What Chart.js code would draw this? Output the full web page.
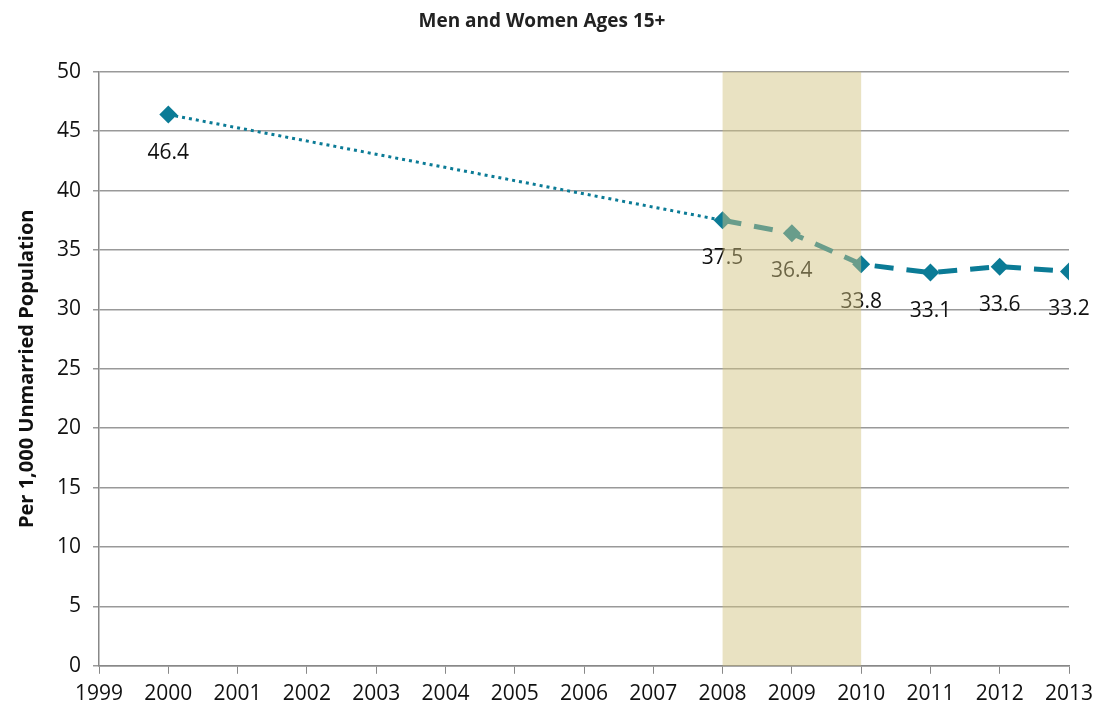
<!DOCTYPE html>
<html lang="en">
<head>
<meta charset="UTF-8">
<title>Men and Women Ages 15+</title>
<script src="https://cdn.jsdelivr.net/npm/chart.js"></script>
<style>
  html, body { margin: 0; padding: 0; background: #fff; }
  #wrap { width: 1103px; height: 711px; }
</style>
</head>
<body>
<div id="wrap"><canvas id="chart"></canvas></div>
<script>
  // data
  const years = [2000, 2008, 2009, 2010, 2011, 2012, 2013];
  const rates = [46.4, 37.5, 36.4, 33.8, 33.1, 33.6, 33.2];
  const shadeFrom = 2008;
  const shadeTo = 2010;

  const teal = '#0b7b96';
  const points = years.map(function (y, i) { return { x: y, y: rates[i] }; });

  // value labels under each point
  const labelPlugin = {
    id: 'valueLabels',
    afterDatasetsDraw: function (chart) {
      const ctx = chart.ctx;
      const meta = chart.getDatasetMeta(0);
      ctx.save();
      ctx.font = '21px "Open Sans", sans-serif';
      ctx.fillStyle = '#111';
      ctx.textAlign = 'center';
      ctx.textBaseline = 'middle';
      meta.data.forEach(function (pt, i) {
        ctx.fillText(rates[i].toFixed(1), pt.x, pt.y + 38);
      });
      ctx.restore();
    }
  };

  // recession band drawn on top of everything
  const bandPlugin = {
    id: 'band',
    afterDraw: function (chart) {
      const xs = chart.scales.x, a = chart.chartArea;
      const ctx = chart.ctx;
      ctx.save();
      ctx.fillStyle = 'rgba(208,195,128,0.48)';
      const x0 = xs.getPixelForValue(shadeFrom), x1 = xs.getPixelForValue(shadeTo);
      ctx.fillRect(x0, a.top, x1 - x0, a.bottom - a.top);
      ctx.restore();
    }
  };

  new Chart(document.getElementById('chart'), {
    type: 'line',
    data: {
      datasets: [{
        data: points,
        borderColor: teal,
        backgroundColor: teal,
        pointStyle: 'rectRot',
        pointRadius: 9,
        pointHoverRadius: 9,
        pointBorderWidth: 0,
        tension: 0,
        segment: {
          borderDash: function (c) { return c.p0DataIndex === 0 ? [3, 4] : [19, 13]; },
          borderWidth: function (c) { return c.p0DataIndex === 0 ? 3 : 5; }
        }
      }]
    },
    options: {
      responsive: true,
      maintainAspectRatio: false,
      animation: false,
      layout: { padding: { left: 15, right: 34, top: 0, bottom: -4 } },
      plugins: {
        legend: { display: false },
        tooltip: { enabled: false },
        title: {
          display: true,
          text: 'Men and Women Ages 15+',
          color: '#222',
          font: { family: '"Open Sans", sans-serif', size: 19, weight: 'bold' },
          padding: { top: 10, bottom: 39 }
        }
      },
      scales: {
        x: {
          type: 'linear',
          min: 1999,
          max: 2013,
          ticks: {
            stepSize: 1,
            color: '#111',
            font: { family: '"Open Sans", sans-serif', size: 21 },
            callback: function (v) { return String(v); },
            maxRotation: 0,
            padding: 8
          },
          grid: { drawOnChartArea: false, drawTicks: true, tickLength: 8, color: '#888' },
          border: { color: '#888', width: 1.5 }
        },
        y: {
          min: 0,
          max: 50,
          ticks: {
            stepSize: 5,
            color: '#111',
            font: { family: '"Open Sans", sans-serif', size: 21 },
            padding: 12
          },
          grid: { color: '#999', lineWidth: 1.5, tickLength: 6 },
          border: { color: '#888', width: 1.5 },
          title: {
            display: true,
            text: 'Per 1,000 Unmarried Population',
            color: '#111',
            font: { family: '"Open Sans", sans-serif', size: 20, weight: 'bold' },
            padding: { top: 0, bottom: 6 }
          }
        }
      }
    },
    plugins: [labelPlugin, bandPlugin]
  });
</script>
</body>
</html>
